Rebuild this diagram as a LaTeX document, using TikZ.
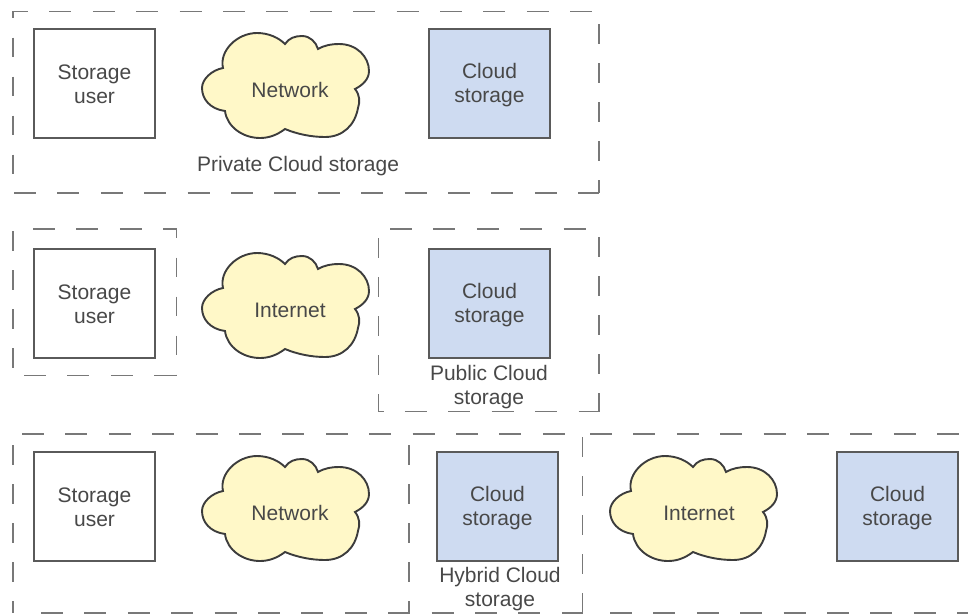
\documentclass[tikz,border=0pt]{standalone}
\usepackage{fontspec}
\setmainfont{Liberation Sans}
\definecolor{cloudfill}{HTML}{FFF8C8}
\definecolor{storefill}{HTML}{CEDBF1}
\definecolor{inkgrey}{HTML}{484848}
\definecolor{edgegrey}{HTML}{5A5A5A}
\definecolor{cloudedge}{HTML}{3C3C3C}
\definecolor{dashgrey}{HTML}{787878}
\tikzset{
  lbl/.style={font=\fontsize{21}{24.2}\selectfont, text=inkgrey, align=center, inner sep=0pt},
  userbox/.style={draw=edgegrey, line width=1.4pt, fill=white, minimum width=121pt, minimum height=109pt},
  storebox/.style={draw=edgegrey, line width=1.7pt, fill=storefill, minimum width=121pt, minimum height=109pt},
  hz/.style={draw=dashgrey, line width=1.3pt, dash pattern=on 22pt off 21.4pt},
  vz/.style={draw=dashgrey, line width=1.3pt, dash pattern=on 19.5pt off 19.5pt},
  pics/netcloud/.style={code={
    \draw[draw=cloudedge, line width=1.9pt, fill=cloudfill]
      (-62,-19) .. controls (-66,-36) and (-48,-54) .. (-28,-54)
      .. controls (-16,-54) and (-6,-49) .. (0,-43)
      .. controls (4,-49) and (10,-51) .. (17,-51)
      .. controls (25,-51) and (31,-45) .. (33,-38)
      .. controls (40,-42) and (47,-43) .. (54,-43)
      .. controls (72,-43) and (84,-30) .. (84,-16)
      .. controls (84,-8) and (78,-2) .. (70,2)
      .. controls (75,8) and (75,15) .. (73,21)
      .. controls (70,38) and (58,50) .. (40,50)
      .. controls (26,50) and (12,47) .. (0,42)
      .. controls (-8,48) and (-16,51) .. (-25,51)
      .. controls (-42,51) and (-58,40) .. (-60,24)
      .. controls (-75,22) and (-83,12) .. (-83,1)
      .. controls (-83,-8) and (-73,-17) .. (-62,-19) -- cycle;
  }}
}
\begin{document}
\begin{tikzpicture}[x=1pt,y=-1pt]
\useasboundingbox (0,0) rectangle (968,614);

% row 1 frame
\draw[hz, dash phase=6pt] (12,11.5) -- (599,11.5);
\draw[vz, dash phase=12.5pt] (13,11) -- (13,193);
\draw[vz] (599,24) -- (599,193);
\draw[hz] (14,193) -- (599,193);
% row 1
\node[userbox] (user1) at (94.5,83.5) {};
\node[lbl] (user1t) at ([yshift=-1pt]user1.center) {Storage\\user};
\pic at (285,87) {netcloud};
\node[lbl] (net1) at (290,90) {Network};
\node[storebox] (store1) at (489.5,83.5) {};
\node[lbl] (store1t) at ([yshift=-1.5pt]store1.center) {Cloud\\storage};
\node[lbl] (private) at (298,166) {Private Cloud storage};

% row 2 frames
\draw[hz] (33,229) -- (177,229);
\draw[vz] (13,231) -- (13,375);
\draw[vz, dash phase=10.5pt] (176.5,229) -- (176.5,375);
\draw[hz] (24,375.5) -- (177,375.5);
\draw[hz] (390,229) -- (599,229);
\draw[vz] (378.5,238) -- (378.5,411.5);
\draw[vz] (599,237) -- (599,411.5);
\draw[hz, dash phase=17pt] (378.5,411.5) -- (599,411.5);
% row 2
\node[userbox] (user2) at (94.5,303.5) {};
\node[lbl] (user2t) at ([yshift=-1pt]user2.center) {Storage\\user};
\pic at (285,307) {netcloud};
\node[lbl] (net2) at (290,310) {Internet};
\node[storebox] (store2) at (489.5,303.5) {};
\node[lbl] (store2t) at ([yshift=-1.5pt]store2.center) {Cloud\\storage};
\node[lbl] (public) at (489,387) {Public Cloud\\storage};

% row 3 frame
\draw[hz] (22,434) -- (583,434);
\draw[hz] (590,434) -- (968,434);
\draw[vz] (13,445) -- (13,613);
\draw[vz] (409,445) -- (409,613);
\draw[vz] (582.5,437) -- (582.5,613);
\draw[hz] (41,613) -- (583,613);
\draw[hz] (610,613) -- (968,613);
% row 3
\node[userbox] (user3) at (94.5,506.5) {};
\node[lbl] (user3t) at ([yshift=-1pt]user3.center) {Storage\\user};
\pic at (285,510) {netcloud};
\node[lbl] (net3) at (290,513) {Network};
\node[storebox] (store3) at (497.5,506.5) {};
\node[lbl] (store3t) at ([yshift=-1.5pt]store3.center) {Cloud\\storage};
\node[lbl] (hybrid) at (500,589) {Hybrid Cloud\\storage};
\pic at (693,510) {netcloud};
\node[lbl] (net4) at (699,513) {Internet};
\node[storebox] (store4) at (897.5,506.5) {};
\node[lbl] (store4t) at ([yshift=-1.5pt]store4.center) {Cloud\\storage};
\end{tikzpicture}
\end{document}
